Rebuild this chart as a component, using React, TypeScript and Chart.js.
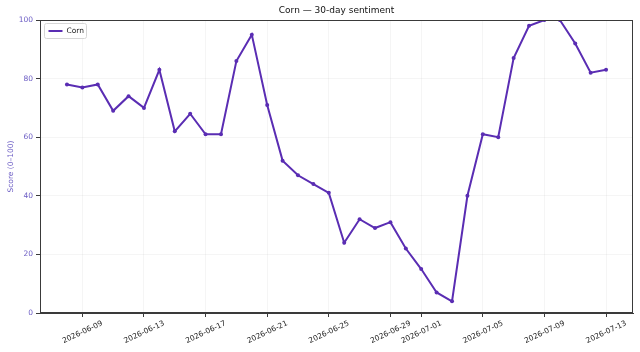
import React, { useEffect, useRef } from "react";
import { Chart, registerables } from "chart.js";

Chart.register(...registerables);

// Daily sentiment readings
const dates = [
  "2026-06-08", "2026-06-09", "2026-06-10", "2026-06-11", "2026-06-12", "2026-06-13",
  "2026-06-14", "2026-06-15", "2026-06-16", "2026-06-17", "2026-06-18", "2026-06-19",
  "2026-06-20", "2026-06-21", "2026-06-22", "2026-06-23", "2026-06-24", "2026-06-25",
  "2026-06-26", "2026-06-27", "2026-06-28", "2026-06-29", "2026-06-30", "2026-07-01",
  "2026-07-02", "2026-07-03", "2026-07-04", "2026-07-05", "2026-07-06", "2026-07-07",
  "2026-07-08", "2026-07-09", "2026-07-10", "2026-07-11", "2026-07-12", "2026-07-13",
];

const cornScores = [
  78, 77, 78, 69, 74, 70,
  83, 62, 68, 61, 61, 86,
  95, 71, 52, 47, 44, 41,
  24, 32, 29, 31, 22, 15,
  7, 4, 40, 61, 60, 87,
  98, 100, 100, 92, 82, 83,
];

const xTickLabels = [
  "2026-06-09", "2026-06-13", "2026-06-17", "2026-06-21", "2026-06-25",
  "2026-06-29", "2026-07-01", "2026-07-05", "2026-07-09", "2026-07-13",
];

const yTickValues = [0, 20, 40, 60, 80, 100];

const seriesName = "Corn";
const chartTitle = "Corn — 30-day sentiment";
const yAxisTitle = "Score (0–100)";

const LINE_COLOR = "#5a2db3";
const AXIS_TEXT_COLOR = "#6b5cc4";
const FONT = "'DejaVu Sans', sans-serif";

export default function App() {
  const canvasRef = useRef<HTMLCanvasElement | null>(null);

  useEffect(() => {
    const canvas = canvasRef.current;
    if (!canvas) return;

    const tickIndices = xTickLabels.map((d) => dates.indexOf(d));

    // Title centred over the plotting area
    const titlePlugin = {
      id: "plotTitle",
      afterDraw(chart: any) {
        const { ctx, chartArea } = chart;
        ctx.save();
        ctx.font = `9px ${FONT}`;
        ctx.fillStyle = "#111";
        ctx.textAlign = "center";
        ctx.textBaseline = "middle";
        ctx.fillText(chartTitle, (chartArea.left + chartArea.right) / 2, 11);
        ctx.restore();
      },
    };

    // Box frame around the plotting area
    const framePlugin = {
      id: "plotFrame",
      afterDatasetsDraw(chart: any) {
        const { ctx, chartArea } = chart;
        ctx.save();
        ctx.strokeStyle = "#3a3a3a";
        ctx.lineWidth = 1;
        ctx.strokeRect(
          Math.round(chartArea.left) + 0.5,
          Math.round(chartArea.top) + 0.5,
          Math.round(chartArea.right - chartArea.left) - 1,
          Math.round(chartArea.bottom - chartArea.top) - 1
        );
        ctx.restore();
      },
    };

    // Legend box in the upper-left corner of the plot
    const legendPlugin = {
      id: "insetLegend",
      afterDraw(chart: any) {
        const { ctx, chartArea } = chart;
        const x = Math.round(chartArea.left) + 4.5;
        const y = Math.round(chartArea.top) + 3.5;
        const w = 42;
        const h = 15;
        ctx.save();
        ctx.fillStyle = "rgba(255,255,255,0.85)";
        ctx.strokeStyle = "#d6d6d6";
        ctx.lineWidth = 1;
        ctx.beginPath();
        ctx.roundRect(x, y, w, h, 2);
        ctx.fill();
        ctx.stroke();
        ctx.strokeStyle = LINE_COLOR;
        ctx.lineWidth = 2;
        ctx.beginPath();
        ctx.moveTo(x + 4, y + h / 2);
        ctx.lineTo(x + 18, y + h / 2);
        ctx.stroke();
        ctx.fillStyle = "#222";
        ctx.font = `7.5px ${FONT}`;
        ctx.textAlign = "left";
        ctx.textBaseline = "middle";
        ctx.fillText(seriesName, x + 22, y + h / 2 + 0.5);
        ctx.restore();
      },
    };

    const chart = new Chart(canvas, {
      type: "line",
      data: {
        datasets: [
          {
            label: seriesName,
            data: cornScores.map((v, i) => ({ x: i, y: v })),
            borderColor: LINE_COLOR,
            backgroundColor: LINE_COLOR,
            borderWidth: 2,
            pointRadius: 2,
            pointHoverRadius: 2,
            pointBorderWidth: 0,
            tension: 0,
          },
        ],
      },
      options: {
        responsive: false,
        animation: false,
        events: [],
        layout: { padding: { top: 20, right: 7, left: 0, bottom: 0 } },
        plugins: {
          legend: { display: false },
          title: { display: false },
          tooltip: { enabled: false },
        },
        scales: {
          x: {
            type: "linear",
            min: -1.75,
            max: dates.length - 1 + 1.75,
            afterBuildTicks: (scale: any) => {
              scale.ticks = tickIndices.map((v) => ({ value: v }));
            },
            afterFit: (scale: any) => {
              scale.height = 39;
            },
            ticks: {
              autoSkip: false,
              minRotation: 25,
              maxRotation: 25,
              padding: 2,
              labelOffset: 20,
              color: "#222",
              font: { family: FONT, size: 7.5 },
              callback: (v: any) => dates[Number(v)] ?? "",
            },
            grid: {
              color: "rgba(0,0,0,0.04)",
              tickColor: "#3a3a3a",
              tickLength: 4,
            },
            border: { color: "#3a3a3a", width: 1 },
          },
          y: {
            min: 0,
            max: 100,
            afterBuildTicks: (scale: any) => {
              scale.ticks = yTickValues.map((v) => ({ value: v }));
            },
            afterFit: (scale: any) => {
              scale.width = 40;
            },
            ticks: {
              padding: 3,
              color: AXIS_TEXT_COLOR,
              font: { family: FONT, size: 7.5 },
            },
            grid: {
              color: "rgba(0,0,0,0.04)",
              tickColor: "#3a3a3a",
              tickLength: 4,
            },
            border: { color: "#3a3a3a", width: 1 },
            title: {
              display: true,
              text: yAxisTitle,
              color: AXIS_TEXT_COLOR,
              font: { family: FONT, size: 7.5 },
              padding: { top: 7, bottom: 0 },
            },
          },
        },
      },
      plugins: [titlePlugin, framePlugin, legendPlugin],
    } as any);

    return () => chart.destroy();
  }, []);

  return (
    <div style={{ position: "absolute", left: 0, top: 0, width: 640, height: 352, background: "#fff" }}>
      <canvas ref={canvasRef} width={640} height={352} />
    </div>
  );
}
